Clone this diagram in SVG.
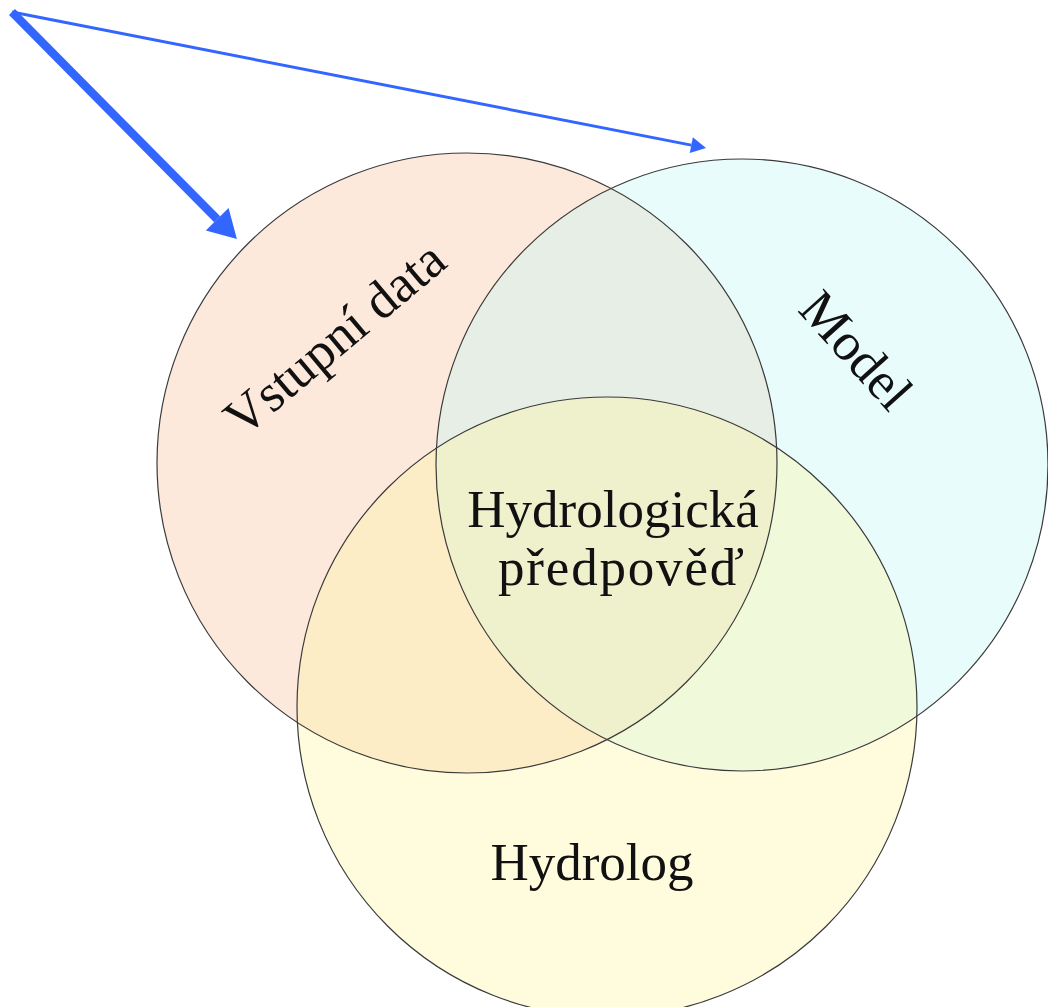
<svg xmlns="http://www.w3.org/2000/svg" width="1048" height="1007" viewBox="0 0 1048 1007">
<style>
.fill{stroke:none;fill-opacity:0.36}
.ring{fill:none;stroke:#3a3a3a;stroke-width:1.2}
.lbl{font-family:"Liberation Serif","Times New Roman",serif;font-size:53px;fill:#111;text-anchor:middle}
.arrow{stroke:#3366ff;fill:none;stroke-linecap:butt}
</style>
<defs>
<marker id="headThick" markerUnits="userSpaceOnUse" markerWidth="34" markerHeight="34" refX="0" refY="16" orient="auto" overflow="visible">
<path d="M0,0 L28,16 L0,32 z" fill="#3366ff"/>
</marker>
<marker id="headThin" markerUnits="userSpaceOnUse" markerWidth="18" markerHeight="18" refX="0" refY="8" orient="auto" overflow="visible">
<path d="M0,0 L15,8 L0,16 z" fill="#3366ff"/>
</marker>
</defs>
<g id="node-vstupni-data">
<circle class="fill" cx="467" cy="463" r="310" fill="#f8c39f"/>
</g>
<g id="node-model">
<circle class="fill" cx="742" cy="465" r="306" fill="#c2f6f6"/>
</g>
<g id="node-hydrolog">
<circle class="fill" cx="607" cy="707" r="310" fill="#fff4a0"/>
</g>
<g id="outlines">
<circle class="ring" cx="467" cy="463" r="310"/>
<circle class="ring" cx="742" cy="465" r="306"/>
<circle class="ring" cx="607" cy="707" r="310"/>
</g>
<g id="labels">
<text class="lbl" transform="translate(346,352) rotate(-40)">Vstupní data</text>
<text class="lbl" transform="translate(843,362) rotate(48)">Model</text>
<text class="lbl" x="613" y="527">Hydrologická</text>
<text class="lbl" x="621" y="585" textLength="246" lengthAdjust="spacing">předpověď</text>
<text class="lbl" x="592" y="880">Hydrolog</text>
</g>
<g id="connectors">
<line class="arrow" x1="12" y1="12" x2="217.2" y2="219.2" stroke-width="8.5" marker-end="url(#headThick)"/>
<line class="arrow" x1="12" y1="12" x2="691.3" y2="145.1" stroke-width="3" marker-end="url(#headThin)"/>
</g>
</svg>
